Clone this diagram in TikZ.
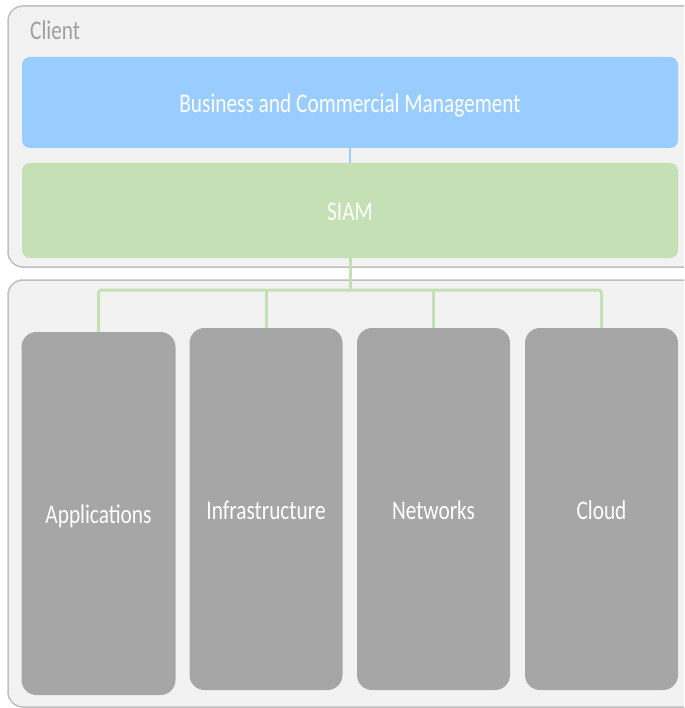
\documentclass[tikz,border=0pt]{standalone}
\usepackage{fontspec}
\setmainfont[FakeStretch=0.79]{Carlito}
\usepackage{tikz}
\usetikzlibrary{calc}

\definecolor{panel}{HTML}{F2F2F2}
\definecolor{edge}{HTML}{BFBFBF}
\definecolor{mgmtblue}{HTML}{99CCFF}
\definecolor{siamgreen}{HTML}{C5E0B4}
\definecolor{towergrey}{HTML}{A6A6A6}
\definecolor{labelgrey}{HTML}{A0A0A0}

\begin{document}
\begin{tikzpicture}[x=1pt,y=-1pt,
    layer/.style={rounded corners=8pt, text=white, inner sep=0pt,
        text height=20pt, text depth=0pt,
        font=\fontsize{27}{30}\selectfont},
    tower/.style={layer, fill=towergrey, rounded corners=15pt,
        minimum width=153pt, minimum height=362pt},
    feed/.style={siamgreen, line width=3pt}]
\clip (0,0) rectangle (684,708);

% the two panels
\draw[fill=panel, draw=edge, line width=1.5pt, rounded corners=15pt] (8,6) rectangle (700,267);
\draw[fill=panel, draw=edge, line width=1.5pt, rounded corners=15pt] (8,280) rectangle (700,707);

\node[anchor=base west, text=labelgrey, inner sep=0pt, font=\fontsize{27}{30}\selectfont] (client) at (30,40) {Client};

% client layers
\node[layer, fill=mgmtblue, minimum width=656pt, minimum height=91pt] (mgmt) at (350,102.5) {Business and Commercial Management};
\node[layer, fill=siamgreen, minimum width=656pt, minimum height=95pt] (siam) at (350,210.5) {SIAM};

% supplier towers
\node[tower, minimum width=154pt, minimum height=363pt] (apps) at (98.5,513.5) {Applications};
\node[tower] (infra) at (266,509) {Infrastructure};
\node[tower] (net) at (433.5,509) {Networks};
\node[tower] (cloud) at (601.5,509) {Cloud};

\draw[mgmtblue, line width=2pt] (mgmt.south) -- (siam.north);

\coordinate (bus) at (350,290);
\draw[feed] (siam.south) -- (bus);
\draw[feed, rounded corners=3pt] (apps.north) -- (apps.north |- bus) -- (cloud.north |- bus) -- (cloud.north);
\draw[feed] (infra.north) -- (infra.north |- bus);
\draw[feed] (net.north) -- (net.north |- bus);
\end{tikzpicture}
\end{document}
